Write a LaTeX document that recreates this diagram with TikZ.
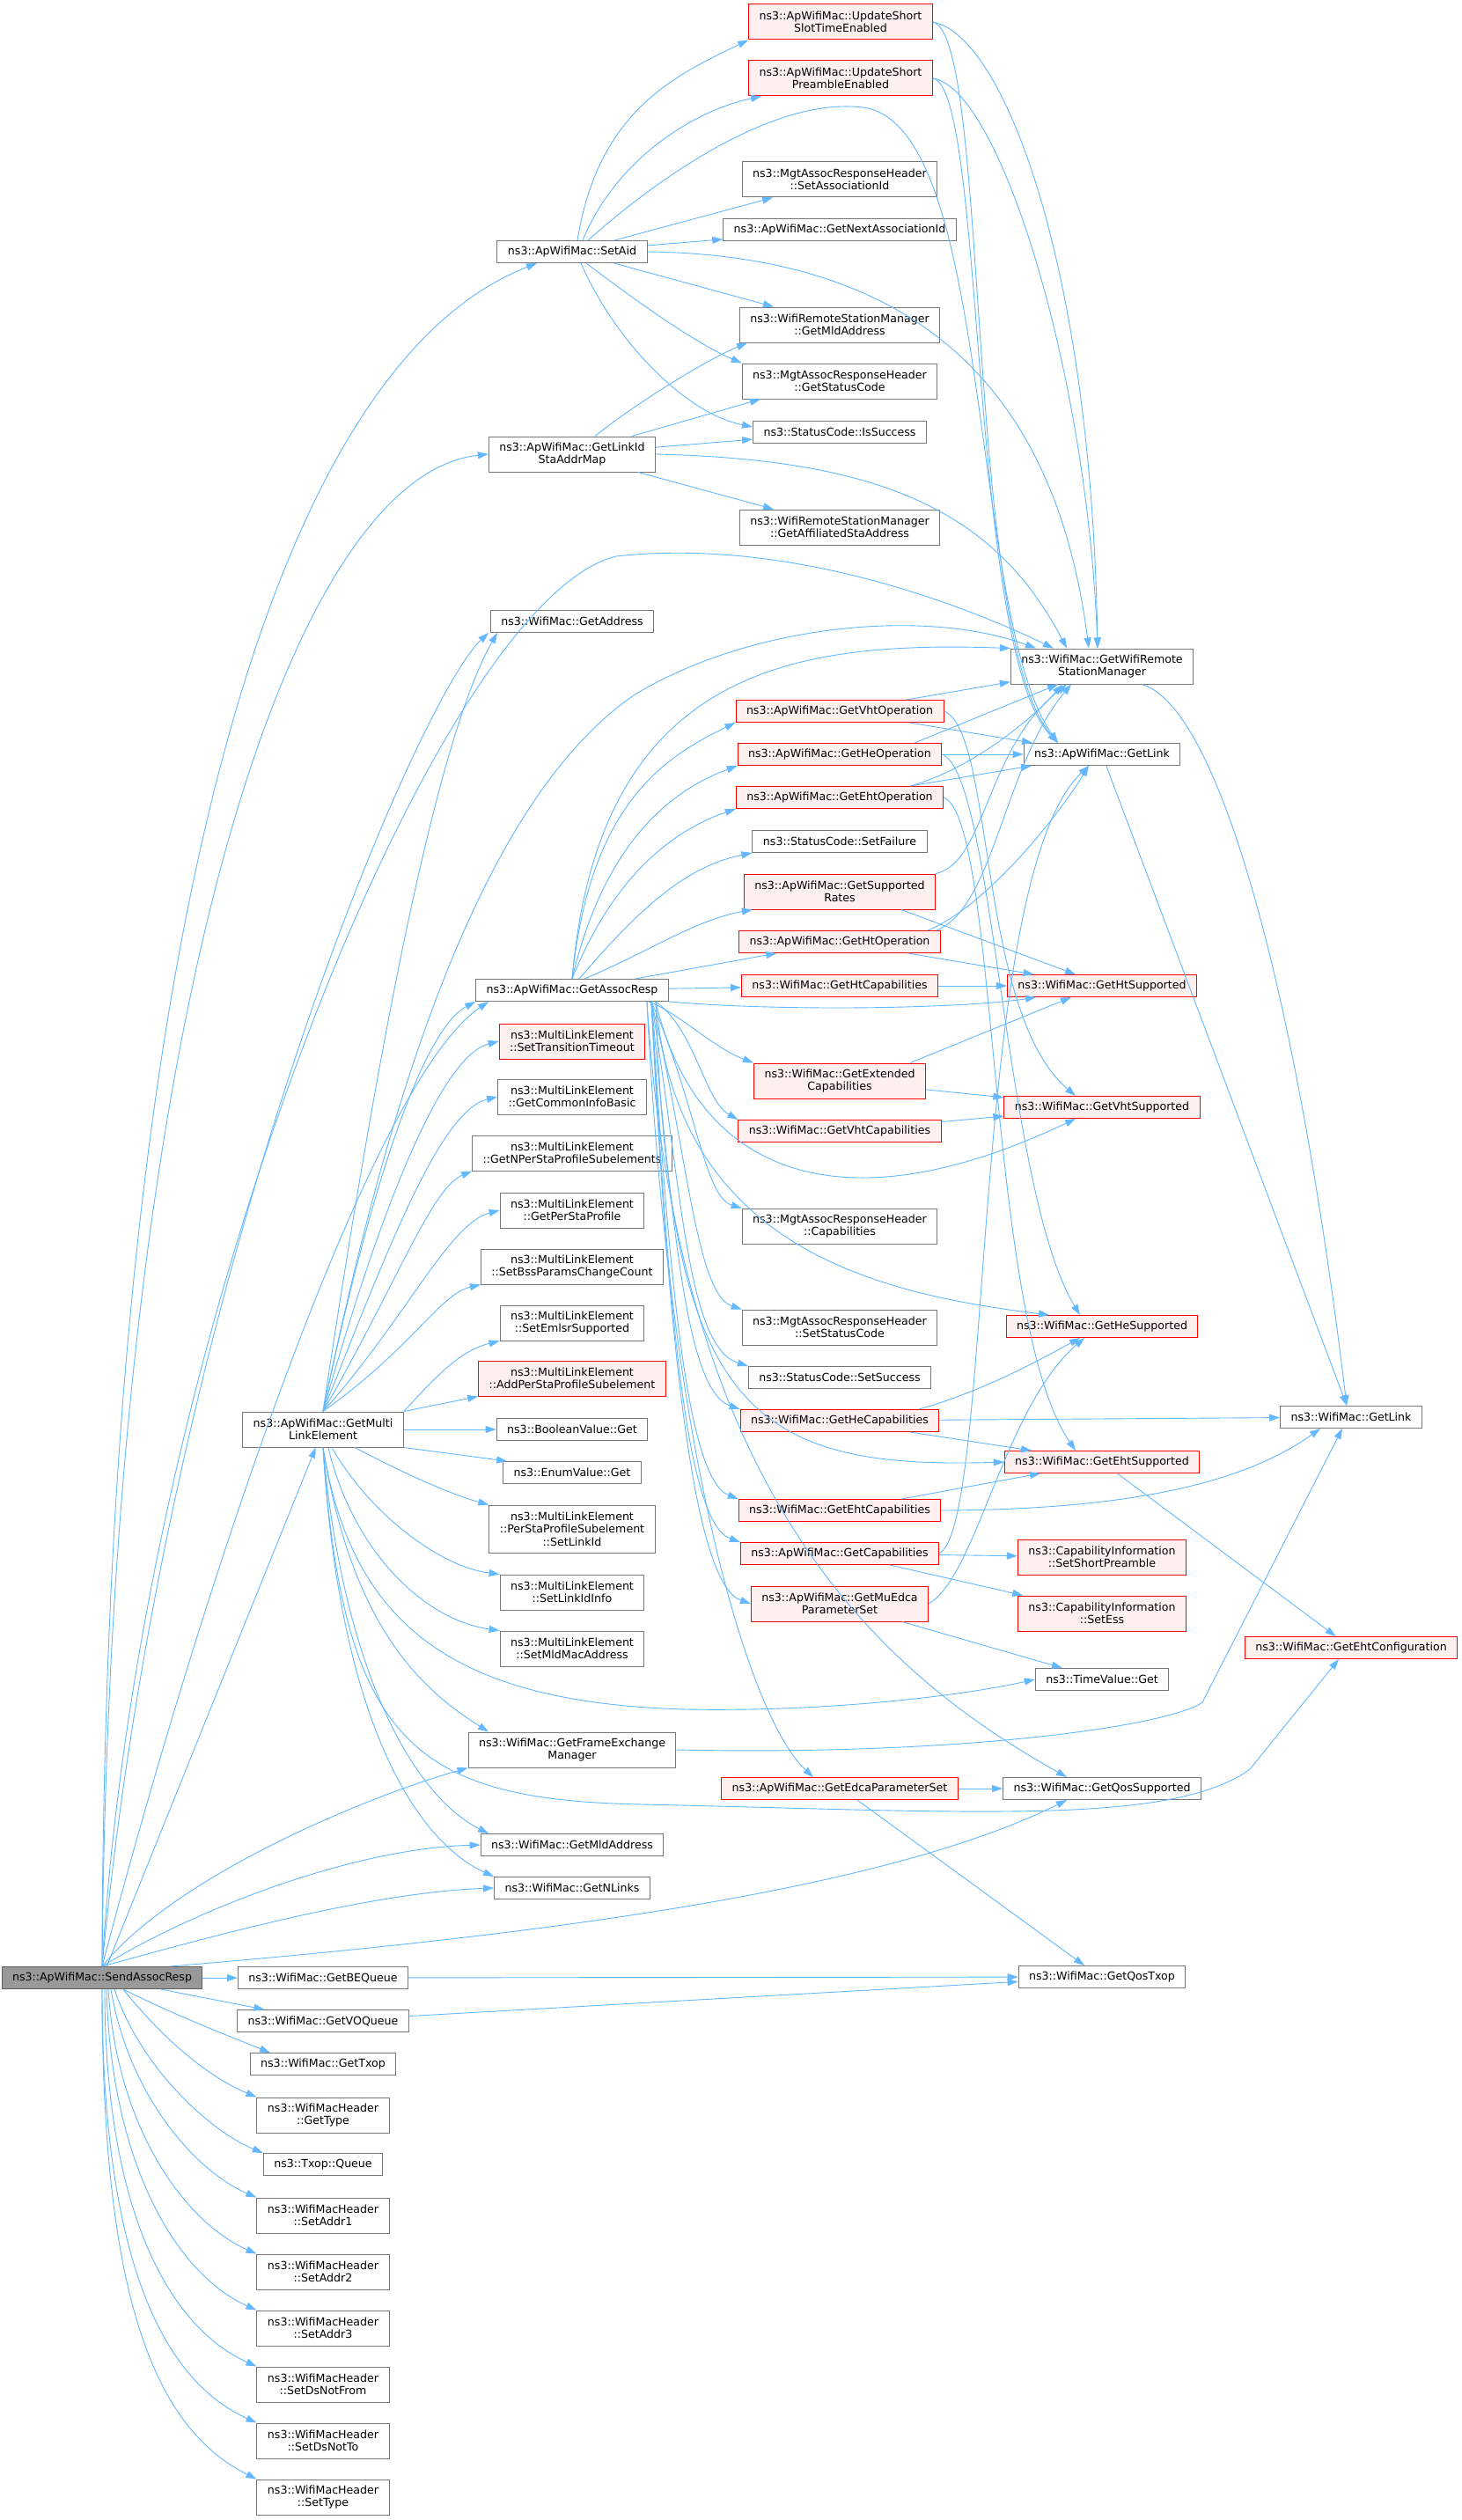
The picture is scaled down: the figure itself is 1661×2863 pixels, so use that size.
\documentclass[tikz,border=0pt]{standalone}
\usepackage{fontspec}
\setmainfont{DejaVu Sans}
\usepackage{xcolor}
\usetikzlibrary{arrows.meta}

\definecolor{edgeblue}{HTML}{63B8FF}
\definecolor{boxline}{HTML}{777777}
\definecolor{rootfill}{HTML}{999999}
\definecolor{hotfill}{HTML}{FFF0F0}

\begin{document}
\begin{tikzpicture}[x=1pt,y=-1pt,
                    fn/.style={shape=rectangle,draw=boxline,fill=white,line width=1pt,align=center,
                               font=\fontsize{12.6}{14.5}\selectfont,inner xsep=12pt,inner ysep=3pt,minimum height=25pt},
                    hot/.style={fn,draw=red,fill=hotfill},
                    root/.style={fn,draw=boxline!80!black,fill=rootfill},
                    lines2/.style={minimum height=40pt},
                    lines3/.style={minimum height=54pt},
                    call/.style={draw=edgeblue,line width=0.9pt,-{Triangle[length=12pt,width=8pt]}}]
                    \useasboundingbox (0,0) rectangle (1661,2863);
                    \fill[white] (0,0) rectangle (1661,2863);

                    \node[root] (sar) at (116,2247) {ns3::ApWifiMac::SendAssocResp};

                    \node[fn,lines2] (gml) at (367,1624) {ns3::ApWifiMac::GetMulti\\LinkElement};
                    \node[fn] (bequeue) at (367,2247) {ns3::WifiMac::GetBEQueue};
                    \node[fn] (voqueue) at (367,2296) {ns3::WifiMac::GetVOQueue};
                    \node[fn] (gettxop) at (367,2345) {ns3::WifiMac::GetTxop};
                    \node[fn,lines2] (gettype) at (367,2403) {ns3::WifiMacHeader\\::GetType};
                    \node[fn] (txopqueue) at (367,2459) {ns3::Txop::Queue};
                    \node[fn,lines2] (addr1) at (367,2517) {ns3::WifiMacHeader\\::SetAddr1};
                    \node[fn,lines2] (addr2) at (367,2581) {ns3::WifiMacHeader\\::SetAddr2};
                    \node[fn,lines2] (addr3) at (367,2645) {ns3::WifiMacHeader\\::SetAddr3};
                    \node[fn,lines2] (dsnotfrom) at (367,2709) {ns3::WifiMacHeader\\::SetDsNotFrom};
                    \node[fn,lines2] (dsnotto) at (367,2773) {ns3::WifiMacHeader\\::SetDsNotTo};
                    \node[fn,lines2] (settype) at (367,2837) {ns3::WifiMacHeader\\::SetType};

                    \node[fn] (setaid) at (650,286) {ns3::ApWifiMac::SetAid};
                    \node[fn,lines2] (linkmap) at (650,516) {ns3::ApWifiMac::GetLinkId\\StaAddrMap};
                    \node[fn] (getaddr) at (650,706) {ns3::WifiMac::GetAddress};
                    \node[fn] (assocresp) at (650,1125) {ns3::ApWifiMac::GetAssocResp};
                    \node[hot,lines2] (transtimeout) at (650,1183) {ns3::MultiLinkElement\\::SetTransitionTimeout};
                    \node[fn,lines2] (commoninfo) at (650,1246) {ns3::MultiLinkElement\\::GetCommonInfoBasic};
                    \node[fn,lines2] (nperstaprof) at (650,1310) {ns3::MultiLinkElement\\::GetNPerStaProfileSubelements};
                    \node[fn,lines2] (perstaprof) at (650,1375) {ns3::MultiLinkElement\\::GetPerStaProfile};
                    \node[fn,lines2] (bssparams) at (650,1439) {ns3::MultiLinkElement\\::SetBssParamsChangeCount};
                    \node[fn,lines2] (emlsr) at (650,1503) {ns3::MultiLinkElement\\::SetEmlsrSupported};
                    \node[hot,lines2] (addpersta) at (650,1566) {ns3::MultiLinkElement\\::AddPerStaProfileSubelement};
                    \node[fn] (boolget) at (650,1624) {ns3::BooleanValue::Get};
                    \node[fn] (enumget) at (650,1673) {ns3::EnumValue::Get};
                    \node[fn,lines3] (setlinkid) at (650,1737) {ns3::MultiLinkElement\\::PerStaProfileSubelement\\::SetLinkId};
                    \node[fn,lines2] (linkidinfo) at (650,1809) {ns3::MultiLinkElement\\::SetLinkIdInfo};
                    \node[fn,lines2] (mldmac) at (650,1873) {ns3::MultiLinkElement\\::SetMldMacAddress};
                    \node[fn,lines2] (fem) at (650,1988) {ns3::WifiMac::GetFrameExchange\\Manager};
                    \node[fn] (wmmld) at (650,2096) {ns3::WifiMac::GetMldAddress};
                    \node[fn] (nlinks) at (650,2145) {ns3::WifiMac::GetNLinks};

                    \node[hot,lines2] (slottime) at (955,25) {ns3::ApWifiMac::UpdateShort\\SlotTimeEnabled};
                    \node[hot,lines2] (preamble) at (955,89) {ns3::ApWifiMac::UpdateShort\\PreambleEnabled};
                    \node[fn,lines2] (setassocid) at (954,204) {ns3::MgtAssocResponseHeader\\::SetAssociationId};
                    \node[fn] (nextaid) at (954,261) {ns3::ApWifiMac::GetNextAssociationId};
                    \node[fn,lines2] (rsmmld) at (954,369) {ns3::WifiRemoteStationManager\\::GetMldAddress};
                    \node[fn,lines2] (getstatus) at (954,433) {ns3::MgtAssocResponseHeader\\::GetStatusCode};
                    \node[fn] (issuccess) at (954,491) {ns3::StatusCode::IsSuccess};
                    \node[fn,lines2] (affiliated) at (954,599) {ns3::WifiRemoteStationManager\\::GetAffiliatedStaAddress};
                    \node[hot] (vhtop) at (954,808) {ns3::ApWifiMac::GetVhtOperation};
                    \node[hot] (heop) at (954,857) {ns3::ApWifiMac::GetHeOperation};
                    \node[hot] (ehtop) at (954,906) {ns3::ApWifiMac::GetEhtOperation};
                    \node[fn] (setfailure) at (954,956) {ns3::StatusCode::SetFailure};
                    \node[hot,lines2] (rates) at (954,1013) {ns3::ApWifiMac::GetSupported\\Rates};
                    \node[hot] (htop) at (954,1070) {ns3::ApWifiMac::GetHtOperation};
                    \node[hot] (htcap) at (954,1120) {ns3::WifiMac::GetHtCapabilities};
                    \node[hot,lines2] (extcap) at (954,1228) {ns3::WifiMac::GetExtended\\Capabilities};
                    \node[hot] (vhtcap) at (954,1285) {ns3::WifiMac::GetVhtCapabilities};
                    \node[fn,lines2] (mgtcap) at (954,1393) {ns3::MgtAssocResponseHeader\\::Capabilities};
                    \node[fn,lines2] (setstatus) at (954,1508) {ns3::MgtAssocResponseHeader\\::SetStatusCode};
                    \node[fn] (setsuccess) at (954,1565) {ns3::StatusCode::SetSuccess};
                    \node[hot] (hecap) at (954,1614) {ns3::WifiMac::GetHeCapabilities};
                    \node[hot] (ehtcap) at (954,1716) {ns3::WifiMac::GetEhtCapabilities};
                    \node[hot] (getcap) at (954,1765) {ns3::ApWifiMac::GetCapabilities};
                    \node[hot,lines2] (muedca) at (954,1822) {ns3::ApWifiMac::GetMuEdca\\ParameterSet};
                    \node[hot] (edca) at (954,2032) {ns3::ApWifiMac::GetEdcaParameterSet};

                    \node[fn,lines2] (wrsm) at (1252,757) {ns3::WifiMac::GetWifiRemote\\StationManager};
                    \node[fn] (aplink) at (1252,857) {ns3::ApWifiMac::GetLink};
                    \node[hot] (htsupp) at (1252,1120) {ns3::WifiMac::GetHtSupported};
                    \node[hot] (vhtsupp) at (1252,1258) {ns3::WifiMac::GetVhtSupported};
                    \node[hot] (hesupp) at (1252,1507) {ns3::WifiMac::GetHeSupported};
                    \node[hot] (ehtsupp) at (1252,1661) {ns3::WifiMac::GetEhtSupported};
                    \node[hot,lines2] (shortpre) at (1252,1769) {ns3::CapabilityInformation\\::SetShortPreamble};
                    \node[hot,lines2] (setess) at (1252,1833) {ns3::CapabilityInformation\\::SetEss};
                    \node[fn] (timeget) at (1252,1908) {ns3::TimeValue::Get};
                    \node[fn] (qossupp) at (1252,2032) {ns3::WifiMac::GetQosSupported};
                    \node[fn] (qostxop) at (1252,2246) {ns3::WifiMac::GetQosTxop};

                    \node[fn] (maclink) at (1535,1610) {ns3::WifiMac::GetLink};
                    \node[hot] (ehtconf) at (1535,1872) {ns3::WifiMac::GetEhtConfiguration};

                    \draw[call] (sar.north) .. controls (118,1100) and (300,420) .. ([xshift=-40pt]setaid.south);
                    \draw[call] (sar.north) .. controls (125,1150) and (330,540) .. (linkmap.west);
                    \draw[call] (sar.north) .. controls (160,1500) and (500,680) .. (700,632) .. controls (900,610) and (1100,690) .. ([xshift=-55pt]wrsm.north);
                    \draw[call] (sar.north) .. controls (190,1450) and (475,794) .. ([xshift=-95pt]getaddr.south);
                    \draw[call] (sar.north) .. controls (230,1800) and (420,1230) .. ([xshift=-95pt]assocresp.south);
                    \draw[call] (sar) -- (gml);
                    \draw[call] (sar.north) .. controls (200,2130) and (420,2040) .. (fem.south west);
                    \draw[call] (sar.north) .. controls (220,2170) and (400,2100) .. (wmmld.west);
                    \draw[call] (sar.north) .. controls (240,2200) and (420,2150) .. (nlinks.west);
                    \draw[call] ([xshift=77pt]sar.north) .. controls (600,2200) and (1000,2150) .. ([xshift=-40pt]qossupp.south);
                    \draw[call] (sar) -- (bequeue);
                    \draw[call] (sar) -- (voqueue);
                    \draw[call] ([xshift=24pt]sar.south) .. controls +(60,30) and +(-50,-20) .. ([xshift=-60pt]gettxop.north);
                    \draw[call] ([xshift=24pt]sar.south) .. controls +(40,50) and +(-60,-25) .. (gettype.north west);
                    \draw[call] ([xshift=14pt]sar.south) .. controls +(30,90) and +(-60,-25) .. (txopqueue.north west);
                    \draw[call] ([xshift=10pt]sar.south) .. controls +(20,120) and +(-70,-30) .. (addr1.north west);
                    \draw[call] ([xshift=7pt]sar.south) .. controls +(10,160) and +(-80,-35) .. (addr2.north west);
                    \draw[call] ([xshift=5pt]sar.south) .. controls +(5,200) and +(-90,-40) .. (addr3.north west);
                    \draw[call] ([xshift=3pt]sar.south) .. controls +(0,250) and +(-100,-45) .. (dsnotfrom.north west);
                    \draw[call] (sar.south) .. controls +(0,300) and +(-110,-50) .. (dsnotto.north west);
                    \draw[call] (sar.south) .. controls +(0,340) and +(-120,-60) .. (settype.north west);

                    \draw[call] (gml.north) .. controls (420,1250) and (490,850) .. ([xshift=-85pt]getaddr.south);
                    \draw[call] (gml.north) .. controls (450,1200) and (560,900) .. (720,790) .. controls (850,710) and (1050,690) .. ([xshift=-75pt]wrsm.north);
                    \draw[call] (gml.north) .. controls (420,1350) and (480,1170) .. (assocresp.south west);
                    \draw[call] (gml.north) .. controls (430,1380) and (500,1200) .. (transtimeout.west);
                    \draw[call] (gml.north) .. controls (440,1420) and (500,1262) .. (commoninfo.west);
                    \draw[call] (gml.north) .. controls (450,1460) and (490,1350) .. (nperstaprof.south west);
                    \draw[call] (gml.north) .. controls (460,1500) and (510,1390) .. (perstaprof.west);
                    \draw[call] (gml.north) .. controls (470,1530) and (500,1470) .. (bssparams.south west);
                    \draw[call] (gml.north east) .. controls (490,1570) and (520,1535) .. (emlsr.south west);
                    \draw[call] (gml.north east) -- (addpersta.south west);
                    \draw[call] (gml.east) -- (boolget.west);
                    \draw[call] (gml.south east) -- ([xshift=5pt]enumget.north west);
                    \draw[call] ([xshift=36pt]gml.south) .. controls (470,1680) and (520,1700) .. (setlinkid.north west);
                    \draw[call] ([xshift=10pt]gml.south) .. controls (420,1720) and (500,1780) .. (linkidinfo.north west);
                    \draw[call] ([xshift=6pt]gml.south) .. controls (400,1760) and (480,1840) .. (mldmac.north west);
                    \draw[call] (gml.south) .. controls (400,1850) and (520,1935) .. (780,1942) .. controls (950,1945) and (1100,1925) .. (timeget.west);
                    \draw[call] (gml.south) .. controls (400,1850) and (480,1920) .. ([xshift=-95pt]fem.north);
                    \draw[call] (gml.south) .. controls (390,1900) and (470,2040) .. ([xshift=-95pt]wmmld.north);
                    \draw[call] (gml.south) .. controls (385,1950) and (470,2090) .. (nlinks.north west);
                    \draw[call] (gml.south) .. controls (390,1980) and (470,2045) .. (730,2050) .. controls (1100,2058) and (1330,2075) .. (1420,2010) -- ([xshift=-14pt]ehtconf.south);

                    \draw[call] ([xshift=6pt]setaid.north) .. controls (680,124) and (769,85) .. (slottime.south west);
                    \draw[call] ([xshift=12pt]setaid.north) .. controls (700,180) and (790,125) .. ([xshift=-90pt]preamble.south);
                    \draw[call] ([xshift=18pt]setaid.north) .. controls (750,200) and (880,110) .. (980,122) .. controls (1130,140) and (1100,700) .. ([xshift=-50pt]aplink.north);
                    \draw[call] (setaid) -- (setassocid);
                    \draw[call] (setaid) -- (nextaid);
                    \draw[call] (setaid.east) .. controls (1050,290) and (1200,450) .. ([xshift=-15pt]wrsm.north);
                    \draw[call] (setaid) -- (rsmmld);
                    \draw[call] ([xshift=16pt]setaid.south) .. controls (720,340) and (790,390) .. (getstatus.north west);
                    \draw[call] ([xshift=10pt]setaid.south) .. controls (700,390) and (780,470) .. ([yshift=6pt]issuccess.west);

                    \draw[call] (slottime.east) .. controls (1140,40) and (1240,300) .. ([xshift=-5pt]wrsm.north);
                    \draw[call] (slottime.east) .. controls (1125,40) and (1095,720) .. ([xshift=-50pt]aplink.north);
                    \draw[call] (preamble.east) .. controls (1135,100) and (1235,420) .. ([xshift=-5pt]wrsm.north);
                    \draw[call] (preamble.east) .. controls (1120,100) and (1100,740) .. ([xshift=-50pt]aplink.north);

                    \draw[call] ([xshift=26pt]linkmap.north) .. controls (720,460) and (800,410) .. ([xshift=-105pt]rsmmld.south);
                    \draw[call] ([xshift=68pt]linkmap.north) -- ([xshift=-90pt]getstatus.south);
                    \draw[call] (linkmap) -- (issuccess);
                    \draw[call] (linkmap.east) .. controls (1000,522) and (1130,580) .. ([xshift=-40pt]wrsm.north);
                    \draw[call] (linkmap) -- (affiliated);

                    \draw[call] ([xshift=45pt]wrsm.south) .. controls (1380,800) and (1470,1100) .. ([xshift=-5pt]maclink.north);
                    \draw[call] (aplink) -- (maclink);

                    \draw[call] (assocresp.north) .. controls (680,760) and (900,728) .. (wrsm.north west);
                    \draw[call] (assocresp.north) .. controls (670,913) and (755,860) .. (vhtop.south west);
                    \draw[call] (assocresp.north) .. controls (685,963) and (757,900) .. (heop.south west);
                    \draw[call] (assocresp.north) .. controls (695,1000) and (760,945) .. (ehtop.south west);
                    \draw[call] ([xshift=8pt]assocresp.north) .. controls (720,1040) and (775,985) .. (setfailure.south west);
                    \draw[call] ([xshift=14pt]assocresp.north) .. controls (740,1080) and (790,1045) .. ([xshift=10pt]rates.south west);
                    \draw[call] (assocresp) -- (htop);
                    \draw[call] (assocresp) -- (htcap);
                    \draw[call] (assocresp.south east) .. controls (900,1150) and (1100,1145) .. ([xshift=-75pt]htsupp.south);
                    \draw[call] ([xshift=87pt]assocresp.south) .. controls (770,1150) and (810,1190) .. (extcap.north west);
                    \draw[call] ([xshift=95pt]assocresp.south) .. controls (790,1170) and (800,1250) .. (vhtcap.north west);
                    \draw[call] ([xshift=95pt]assocresp.south) .. controls (790,1330) and (950,1400) .. ([xshift=-30pt]vhtsupp.south);
                    \draw[call] ([xshift=90pt]assocresp.south) .. controls (790,1250) and (800,1360) .. (mgtcap.north west);
                    \draw[call] ([xshift=90pt]assocresp.south) .. controls (780,1300) and (790,1470) .. (setstatus.north west);
                    \draw[call] ([xshift=90pt]assocresp.south) .. controls (775,1350) and (780,1530) .. (setsuccess.north west);
                    \draw[call] ([xshift=95pt]assocresp.south) .. controls (770,1420) and (1000,1470) .. ([xshift=-60pt]hesupp.north);
                    \draw[call] ([xshift=90pt]assocresp.south) .. controls (765,1400) and (780,1580) .. (hecap.north west);
                    \draw[call] ([xshift=95pt]assocresp.south) .. controls (760,1600) and (850,1670) .. (ehtsupp.west);
                    \draw[call] ([xshift=90pt]assocresp.south) .. controls (760,1450) and (780,1680) .. (ehtcap.north west);
                    \draw[call] ([xshift=90pt]assocresp.south) .. controls (760,1500) and (780,1730) .. (getcap.north west);
                    \draw[call] ([xshift=90pt]assocresp.south) .. controls (760,1550) and (790,1800) .. (muedca.west);
                    \draw[call] ([xshift=85pt]assocresp.south) .. controls (760,1650) and (850,1950) .. ([xshift=-30pt]edca.north);
                    \draw[call] ([xshift=85pt]assocresp.south) .. controls (770,1700) and (1000,1900) .. ([xshift=-40pt]qossupp.north);

                    \draw[call] (vhtop) -- (wrsm);
                    \draw[call] (vhtop) -- (aplink);
                    \draw[call] (vhtop.east) .. controls (1130,830) and (1110,1150) .. ([xshift=-30pt]vhtsupp.north);
                    \draw[call] (heop) -- (aplink);
                    \draw[call] ([xshift=85pt]heop.north) -- ([xshift=-50pt]wrsm.south);
                    \draw[call] (heop.east) .. controls (1130,880) and (1140,1350) .. ([xshift=-25pt]hesupp.north);
                    \draw[call] ([xshift=80pt]ehtop.north) .. controls (1100,875) and (1170,820) .. ([xshift=-45pt]wrsm.south);
                    \draw[call] ([xshift=80pt]ehtop.north) -- ([xshift=-80pt]aplink.south);
                    \draw[call] (ehtop.east) .. controls (1135,930) and (1120,1500) .. ([xshift=-30pt]ehtsupp.north);
                    \draw[call] (rates.north east) .. controls (1120,980) and (1120,850) .. ([xshift=-40pt]wrsm.south);
                    \draw[call] ([xshift=70pt]rates.south) -- ([xshift=-30pt]htsupp.north);
                    \draw[call] ([xshift=110pt]htop.north) .. controls (1130,1030) and (1140,870) .. ([xshift=-35pt]wrsm.south);
                    \draw[call] ([xshift=100pt]htop.north) .. controls (1120,1030) and (1200,930) .. ([xshift=-15pt]aplink.south);
                    \draw[call] (htop) -- (htsupp);
                    \draw[call] (htcap) -- (htsupp);
                    \draw[call] ([xshift=80pt]extcap.north) -- ([xshift=-35pt]htsupp.south);
                    \draw[call] (extcap) -- (vhtsupp);
                    \draw[call] (vhtcap) -- (vhtsupp);
                    \draw[call] ([xshift=90pt]hecap.north) .. controls (1120,1580) and (1190,1540) .. ([xshift=-25pt]hesupp.south);
                    \draw[call] (hecap) -- (maclink);
                    \draw[call] ([xshift=80pt]hecap.south) -- ([xshift=-80pt]ehtsupp.north);
                    \draw[call] ([xshift=70pt]ehtcap.north) -- ([xshift=-70pt]ehtsupp.south);
                    \draw[call] (ehtcap.east) .. controls (1300,1715) and (1420,1680) .. ([xshift=-35pt]maclink.south);
                    \draw[call] (getcap) -- (shortpre);
                    \draw[call] (getcap) -- (setess);
                    \draw[call] (getcap.east) .. controls (1130,1730) and (1100,1000) .. ([xshift=-15pt]aplink.south);
                    \draw[call] (muedca.east) .. controls (1110,1790) and (1140,1600) .. ([xshift=-20pt]hesupp.south);
                    \draw[call] (muedca) -- (timeget);
                    \draw[call] (edca) -- (qossupp);
                    \draw[call] ([xshift=20pt]edca.south) -- ([xshift=-20pt]qostxop.north);
                    \draw[call] (ehtsupp) -- (ehtconf);
                    \draw[call] (fem.east) .. controls (1100,1995) and (1330,1960) .. (1366,1934) -- ([xshift=-10pt]maclink.south);
                    \draw[call] (bequeue) -- (qostxop);
                    \draw[call] (voqueue) -- (qostxop);
                \end{tikzpicture}
\end{document}
